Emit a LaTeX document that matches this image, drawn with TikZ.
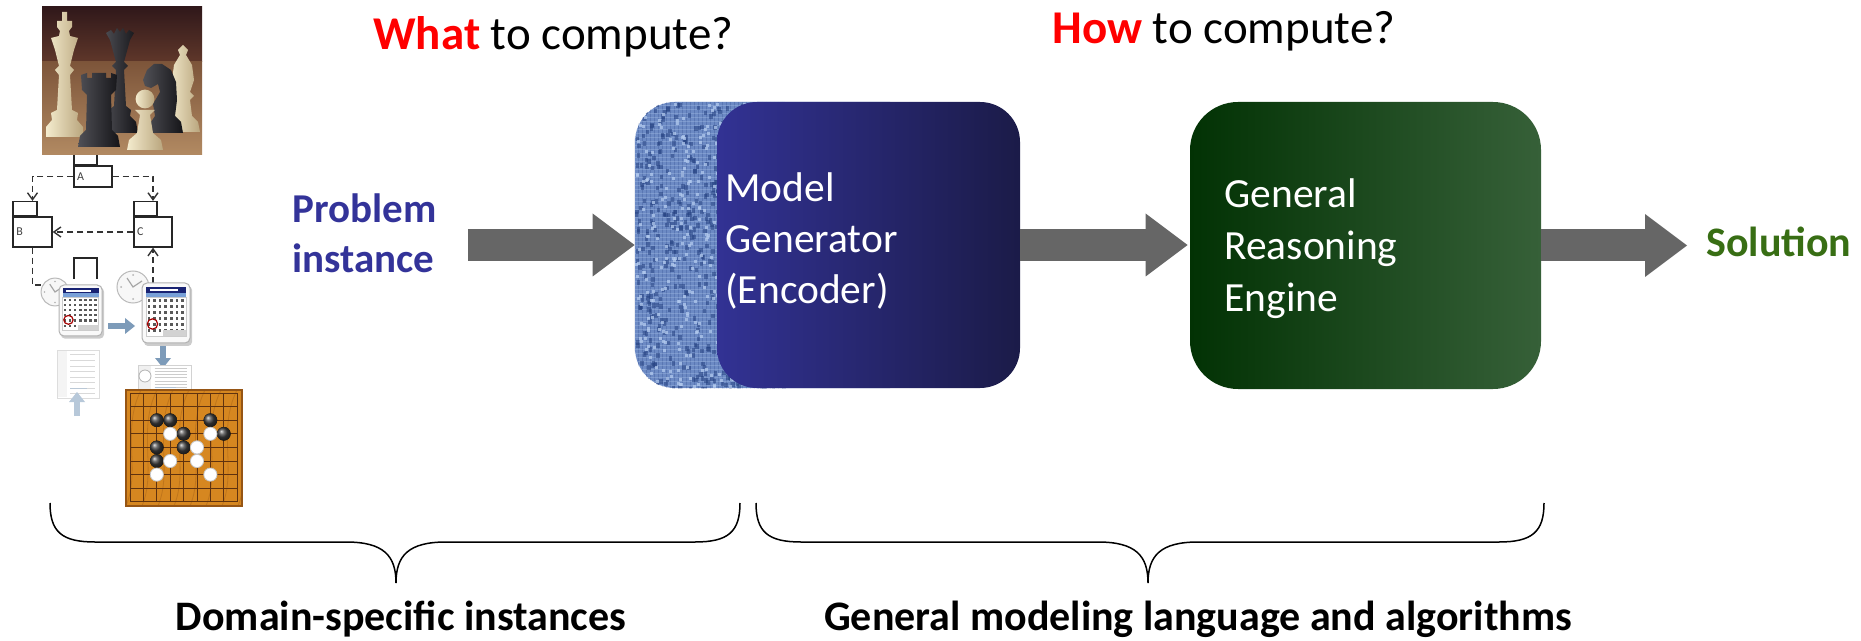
\documentclass[tikz,border=0pt]{standalone}
\usepackage{fontspec}
\setmainfont{Carlito}
\usetikzlibrary{arrows.meta,calc}

\definecolor{probblue}{RGB}{51,51,153}
\definecolor{solgreen}{RGB}{56,110,20}
\definecolor{arrowgray}{RGB}{102,102,102}
\definecolor{genL}{RGB}{50,50,148}
\definecolor{genR}{RGB}{27,27,72}
\definecolor{engL}{RGB}{2,50,4}
\definecolor{engR}{RGB}{54,96,56}
\definecolor{texbase}{RGB}{108,138,196}
\definecolor{texdark}{RGB}{38,66,130}
\definecolor{texlight}{RGB}{178,202,238}
\definecolor{gowood}{RGB}{214,135,32}
\definecolor{goedge}{RGB}{150,85,20}
\definecolor{goline}{RGB}{95,50,15}
\definecolor{cream}{RGB}{244,236,206}
\definecolor{creamdark}{RGB}{185,165,125}
\definecolor{pieceblack}{RGB}{20,20,24}
\definecolor{pieceblackhi}{RGB}{80,80,86}
\definecolor{chessA}{RGB}{48,24,26}
\definecolor{chessB}{RGB}{95,55,42}
\definecolor{chessC}{RGB}{125,85,58}
\definecolor{chessD}{RGB}{178,138,98}
\definecolor{calnavy}{RGB}{25,35,115}
\definecolor{calrow}{RGB}{120,160,215}
\definecolor{iconblue}{RGB}{125,155,185}

\tikzset{
  bigarrow/.style={draw=arrowgray,line width=16pt,-{Triangle[length=21pt,width=31.5pt,line width=0pt]}},
  iconarrow/.style={draw=iconblue,line width=3pt,-{Triangle[length=5pt,width=8pt,line width=0pt]}},
  umlbox/.style={draw=black!85,line width=0.7pt,fill=white,inner xsep=1.5pt,inner ysep=0pt,minimum width=19pt,text width=16pt,align=left,font=\fontsize{6}{7}\selectfont,text=black!75},
  umltab/.style={draw=black!85,line width=0.7pt,fill=white,inner sep=0pt,minimum width=12pt,minimum height=7pt,anchor=south west},
  umlline/.style={draw=black!80,line width=0.7pt,dash pattern=on 3pt off 2pt},
  umldash/.style={umlline,-{Straight Barb[length=3.5pt,width=5pt]}},
  wpiece/.style={left color=cream,right color=creamdark},
  bpiece/.style={left color=pieceblackhi,right color=pieceblack},
  blackstone/.style={shading=ball,ball color=black!75},
  whitestone/.style={fill=white,draw=gray!45,line width=0.4pt},
  boxtext/.style={text=white,inner sep=0pt,anchor=base west},
  calpic/.pic={
    \fill[black,opacity=.2,rounded corners=2pt] (2,3) rectangle (50,63);
    \fill[gray!5,draw=gray!60,line width=.5pt,rounded corners=2.5pt] (0,0) rectangle (48,60);
    \fill[calnavy] (4,4) rectangle (44,10);
    \fill[white] (8,6.3) rectangle (36,7.7);
    \fill[calrow] (4,10) rectangle (44,14);
    \fill[white,draw=gray!40,line width=.2pt] (4,14) rectangle (44,53);
    \foreach \r in {0,...,5}{\foreach \c in {0,...,6}{
      \fill[black!65] ({5.6+\c*5.6},{16+\r*6.1}) rectangle ++(2.6,2.6);}}
    \fill[gray!35] (21,47) rectangle (44,53);
    \draw[red!65!black,line width=.6pt] (10.5,41) circle[radius=2.6pt];
  },
  clockpic/.pic={
    \fill[gray!6,draw=gray!55,line width=.5pt] (0,0) circle[radius=8pt];
    \foreach \a in {0,90,180,270} \fill[gray!60] (\a:12) circle[radius=.5pt];
    \draw[gray!70,line width=.6pt] (-6,-9) -- (0,0) -- (9,-6);
  },
  docpic/.pic={
    \fill[white,draw=gray!35,line width=.4pt] (0,0) rectangle (42,48);
    \fill[gray!12] (1,1) rectangle (10,47);
    \foreach \k in {0,...,7} \draw[gray!40,line width=.5pt] (13,{5+\k*5.5}) -- (38,{5+\k*5.5});
    \draw[iconblue!60,line width=.5pt] (13,38) -- (30,38);
  }
}

\begin{document}
\begin{tikzpicture}[x=0.5pt,y=-0.5pt]
\useasboundingbox (0,0) rectangle (1861,641);
\pgfmathsetseed{42}

% ---------------- UML sketch ----------------
\node[umlbox,minimum height=10.5pt] (A) at (93,176.5) {A};
\node[umltab,minimum width=11.5pt] (Atab) at (A.north west) {};
\node[umlbox,minimum height=15pt,minimum width=19.5pt] (B) at (32.5,232) {B};
\node[umltab] (Btab) at (B.north west) {};
\node[umlbox,minimum height=15pt] (C) at (153,232) {C};
\node[umltab,minimum width=11.5pt] (Ctab) at (C.north west) {};
\coordinate (cal2top) at (153,283);
\coordinate (clk1w) at (42,285);
\draw[umldash] (A.west) -| (B.north |- Btab.north);
\draw[umldash] (A.east) -| (C.north |- Ctab.north);
\draw[umldash] (C.west) -- (B.east);
\draw[umldash] (cal2top) -- (C.south);
\draw[umlline] (B.south) |- (clk1w);
\draw[black!85,line width=0.7pt] (74,279) -- (74,258) -- (97,258) -- (97,279);

% ---------------- chess photo ----------------
\begin{scope}
\clip (42,7) rectangle (202,155);
\fill[top color=chessA,bottom color=chessB] (42,7) rectangle (202,62);
\fill[top color=chessC,bottom color=chessD] (42,62) rectangle (202,155);
\path[wpiece] (167,132) -- (200,132) -- (198,122) -- (192,116) -- (190,100) -- (194,96) -- (190,92) -- (194,80) -- (192,65) -- (186,55) -- (188,50) -- (183,45) -- (178,50) -- (180,55) -- (174,65) -- (172,80) -- (176,92) -- (172,96) -- (176,100) -- (174,116) -- (168,122) -- cycle;
\path[bpiece] (102,133) -- (138,133) -- (136,122) -- (130,116) -- (131,110) -- (126,106) -- (124,70) -- (128,66) -- (124,62) -- (130,40) -- (134,33) -- (129,30) -- (126,34) -- (123,28) -- (120,32) -- (117,28) -- (114,34) -- (111,30) -- (106,33) -- (110,40) -- (116,62) -- (112,66) -- (116,70) -- (114,106) -- (109,110) -- (110,116) -- (104,122) -- cycle;
\path[bpiece] (150,133) -- (183,133) -- (181,122) -- (175,116) -- (177,100) -- (176,82) -- (171,70) -- (162,64) -- (154,64) -- (147,70) -- (143,80) -- (145,86) -- (151,88) -- (158,84) -- (160,92) -- (153,104) -- (155,116) -- (151,122) -- cycle;
\path[wpiece] (46,137) -- (83,137) -- (83,127) -- (77,120) -- (78,113) -- (72,110) -- (70,75) -- (74,70) -- (70,66) -- (74,50) -- (78,38) -- (70,36) -- (69,31) -- (72,27) -- (72,21) -- (67,21) -- (67,12) -- (62,12) -- (62,21) -- (57,21) -- (57,27) -- (60,31) -- (59,36) -- (51,38) -- (55,50) -- (59,66) -- (55,70) -- (59,75) -- (57,110) -- (51,113) -- (52,120) -- (46,127) -- cycle;
\path[bpiece] (78,147) -- (120,147) -- (118,136) -- (112,130) -- (111,95) -- (116,90) -- (117,75) -- (111,73) -- (111,78) -- (106,78) -- (106,73) -- (92,73) -- (92,78) -- (87,78) -- (87,73) -- (81,75) -- (82,90) -- (87,95) -- (86,130) -- (80,136) -- cycle;
\path[wpiece] (127,150) -- (163,150) -- (161,140) -- (153,133) -- (150,115) -- (155,110) -- (135,110) -- (140,115) -- (137,133) -- (129,140) -- cycle;
\path[wpiece] (145,99) circle[radius=4.7pt];
\end{scope}

% ---------------- calendar icons ----------------
\pic[scale=.87] at (55,292) {clockpic};
\pic[xscale=.9,yscale=.85] at (59,285) {calpic};
\pic at (133,287) {clockpic};
\pic at (142,283) {calpic};
\coordinate (ra1) at (108,326); \coordinate (ra2) at (135,326);
\draw[iconarrow] (ra1) -- (ra2);
\coordinate (da1) at (163,346); \coordinate (da2) at (163,368);
\draw[iconarrow] (da1) -- (da2);
\pic[opacity=.75] at (57,350) {docpic};
\coordinate (ua1) at (77,416); \coordinate (ua2) at (77,392);
\draw[iconarrow,draw=iconblue!55] (ua1) -- (ua2);
\pic[xscale=1.28,yscale=.6] at (138,365) {docpic};
\draw[gray!60,fill=white,line width=.4pt] (145,376) circle[radius=3pt];

% ---------------- go board ----------------
\fill[gowood,draw=goedge,line width=1pt] (126,390) rectangle (242,506);
\begin{scope}
\clip (126,390) rectangle (242,506);
\foreach \s in {0,16,...,140} \draw[goedge,opacity=.35,line width=.4pt] ({110+\s},506) .. controls ({125+\s},470) and ({105+\s},430) .. ({125+\s},390);
\end{scope}
\foreach \i in {0,...,8} \draw[goline,line width=.45pt] ({130+13.4*\i},393) -- ({130+13.4*\i},502);
\foreach \j in {0,...,8} \draw[goline,line width=.45pt] (130,{393+13.6*\j}) -- (237.2,{393+13.6*\j});
\foreach \i/\j in {2/2,3/2,6/2,4/3,7/3,2/4,4/4,2/5} \fill[blackstone] ({130+13.4*\i},{393+13.6*\j}) circle[radius=3.4pt];
\foreach \i/\j in {3/3,6/3,5/4,3/5,5/5,2/6,6/6} \draw[whitestone] ({130+13.4*\i},{393+13.6*\j}) circle[radius=3.3pt];

% ---------------- headings ----------------
\node[anchor=base west,inner sep=0pt,font=\fontsize{23.5}{28}\selectfont] (what) at (373,50) {\textcolor{red}{\bfseries What} to compute?};
\node[anchor=base west,inner sep=0pt,font=\fontsize{23.5}{28}\selectfont] (how) at (1052,44) {\textcolor{red}{\bfseries How} to compute?};

% ---------------- main flow ----------------
\node[anchor=base west,inner sep=0pt,text=probblue,font=\fontsize{20.5}{25}\selectfont\bfseries] (prob) at (292,223) {\begin{tabular}[t]{@{}l@{}}Problem\\instance\end{tabular}};

\node[draw=none,fill=texbase,inner sep=0pt,minimum width=147.5pt,minimum height=143pt,rounded corners=20pt] (tex) at (782.5,245) {};
\begin{scope}
  \clip[rounded corners=20pt] (tex.north west) rectangle (tex.south east);
  \begin{scope}[shift={(tex.north west)}]
    \foreach \k in {0,4,...,150} \draw[texdark,opacity=.25,line width=.8pt] (\k,0) -- (\k,290);
    \foreach \k in {0,4,...,290} \draw[texlight,opacity=.3,line width=.7pt] (0,\k) -- (150,\k);
    \foreach \i in {1,...,650} {\pgfmathsetmacro\rx{rnd*150}\pgfmathsetmacro\ry{rnd*290}
      \fill[texdark,opacity=.55] (\rx,\ry) rectangle ++(3.5,4.5);}
    \foreach \i in {1,...,420} {\pgfmathsetmacro\rx{rnd*150}\pgfmathsetmacro\ry{rnd*290}
      \fill[texlight,opacity=.75] (\rx,\ry) rectangle ++(3,3);}
  \end{scope}
\end{scope}

\node[draw=none,inner sep=0pt,minimum width=151.5pt,minimum height=143pt,rounded corners=20pt,left color=genL,right color=genR] (gen) at (868.5,245) {};
\node[boxtext,font=\fontsize{20.75}{25.5}\selectfont] (gentext) at (725,202) {\begin{tabular}[t]{@{}l@{}}Model\\Generator\\(Encoder)\end{tabular}};

\node[draw=none,inner sep=0pt,minimum width=175.5pt,minimum height=143.5pt,rounded corners=24pt,left color=engL,right color=engR] (eng) at (1365.5,245.5) {};
\node[boxtext,font=\fontsize{20.75}{26}\selectfont] (engtext) at (1224,208) {\begin{tabular}[t]{@{}l@{}}General\\Reasoning\\Engine\end{tabular}};

\node[anchor=base west,inner sep=0pt,text=solgreen,font=\fontsize{21}{25}\selectfont\bfseries] (sol) at (1706,257) {Solution};

\draw[bigarrow,shorten <=15.5pt] (tex.west -| prob.east) -- (tex.west);
\draw[bigarrow,shorten >=1pt] (gen.east) -- (gen.east -| eng.west);
\draw[bigarrow,shorten >=9.5pt] (eng.east) -- (eng.east -| sol.west);

% ---------------- braces ----------------
\draw[black,line width=0.75pt] (50,503) .. controls (50,532) and (62,542) .. (95,542) -- (346,542) .. controls (384,542) and (396,556) .. (396,583) .. controls (396,556) and (408,542) .. (446,542) -- (695,542) .. controls (728,542) and (740,532) .. (740,503);
\draw[black,line width=0.75pt] (756,503) .. controls (756,532) and (768,542) .. (801,542) -- (1098,542) .. controls (1136,542) and (1148,556) .. (1148,583) .. controls (1148,556) and (1160,542) .. (1198,542) -- (1499,542) .. controls (1532,542) and (1544,532) .. (1544,503);

\node[anchor=base,inner sep=0pt,font=\fontsize{21}{25}\selectfont\bfseries] (dom) at (401,630) {Domain-specific instances};
\node[anchor=base,inner sep=0pt,font=\fontsize{21}{25}\selectfont\bfseries] (gml) at (1198,630) {General modeling language and algorithms};
\end{tikzpicture}
\end{document}
